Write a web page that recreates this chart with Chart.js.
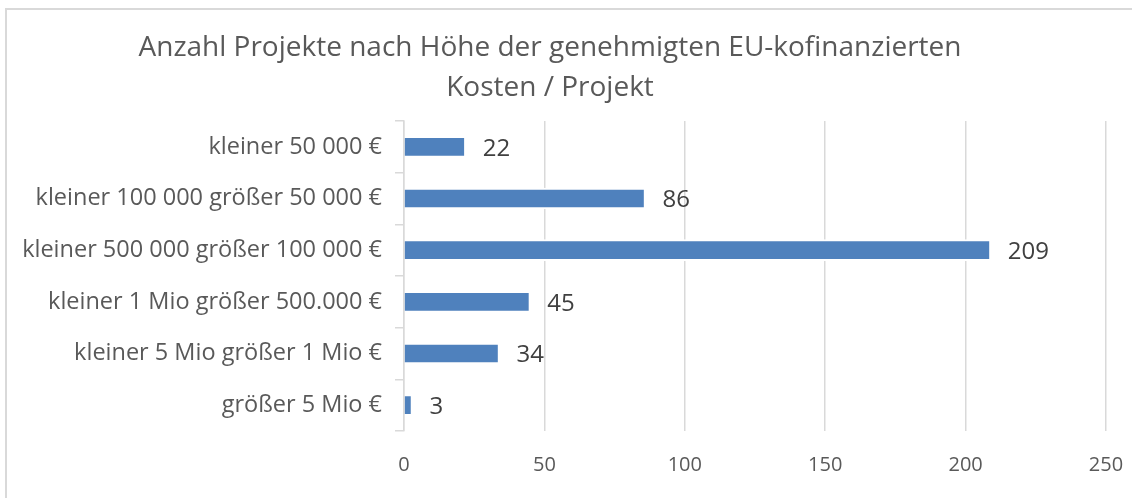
<!DOCTYPE html>
<html>
<head>
<meta charset="utf-8">
<script src="https://cdn.jsdelivr.net/npm/chart.js@4"></script>
<style>
  html, body { margin: 0; padding: 0; background: #fff; overflow: hidden; }
  #wrap { width: 1132px; height: 498px; position: relative; }
</style>
</head>
<body>
<div id="wrap"><canvas id="chart" width="1132" height="498"></canvas></div>
<script>
// categories top to bottom, as shown
const categories = [
  "kleiner 50 000 €",
  "kleiner 100 000 größer 50 000 €",
  "kleiner 500 000 größer 100 000 €",
  "kleiner 1 Mio größer 500.000 €",
  "kleiner 5 Mio größer 1 Mio €",
  "größer 5 Mio €"
];
const projectCounts = [22, 86, 209, 45, 34, 3];
const xTicks = [0, 50, 100, 150, 200, 250];
const titleLines = ["Anzahl Projekte nach Höhe der genehmigten EU-kofinanzierten", "Kosten / Projekt"];

const FONT = "'Open Sans', sans-serif";
const gridGray = "#d9d9d9";

// frame round the chart (only left + top edges are inside the picture)
const framePlugin = {
  id: "frame",
  beforeDraw(chart) {
    const ctx = chart.ctx;
    ctx.save();
    ctx.fillStyle = "#fff";
    ctx.fillRect(0, 0, chart.width, chart.height);
    ctx.strokeStyle = gridGray;
    ctx.lineWidth = 2;
    ctx.beginPath();
    ctx.moveTo(6, chart.height);
    ctx.lineTo(6, 9);
    ctx.lineTo(chart.width, 9);
    ctx.stroke();
    ctx.restore();
  }
};

// two-line title, centred a bit left of the canvas centre like the original
const titlePlugin = {
  id: "excelTitle",
  afterDraw(chart) {
    const ctx = chart.ctx;
    ctx.save();
    ctx.font = "28px " + FONT;
    ctx.fillStyle = "#595959";
    ctx.textAlign = "center";
    ctx.textBaseline = "middle";
    titleLines.forEach((line, i) => ctx.fillText(line, 550, 48 + i * 40));
    ctx.restore();
  }
};

// value labels to the right of each bar
const valueLabels = {
  id: "valueLabels",
  afterDatasetsDraw(chart) {
    const ctx = chart.ctx;
    const meta = chart.getDatasetMeta(0);
    ctx.save();
    ctx.font = "24px " + FONT;
    ctx.fillStyle = "#404040";
    ctx.textAlign = "left";
    ctx.textBaseline = "middle";
    meta.data.forEach((bar, i) => {
      ctx.fillText(String(projectCounts[i]), bar.x + 17, bar.y + 2);
    });
    ctx.restore();
  }
};

new Chart(document.getElementById("chart"), {
  type: "bar",
  data: {
    labels: categories,
    datasets: [{
      data: projectCounts,
      backgroundColor: "#4f81bd",
      borderColor: "#ffffff",
      borderWidth: 2,
      barThickness: 21
    }]
  },
  plugins: [framePlugin, titlePlugin, valueLabels],
  options: {
    indexAxis: "y",
    responsive: false,
    animation: false,
    layout: { padding: { left: 10, right: 26, top: 121, bottom: 0 } },
    plugins: {
      legend: { display: false },
      title: { display: false },
      tooltip: { enabled: false }
    },
    scales: {
      x: {
        min: 0,
        max: 250,
        afterBuildTicks: (scale) => { scale.ticks = xTicks.map(v => ({ value: v })); },
        afterFit: (scale) => {
          scale.height = 67;
          // let the layout padding decide the right edge, not the last label
          scale.paddingLeft = 0;
          scale.paddingRight = 0;
        },
        grid: { color: gridGray, lineWidth: 1.5, drawTicks: false },
        border: { display: false },
        ticks: { color: "#595959", font: { family: FONT, size: 20 }, padding: 22 }
      },
      y: {
        afterFit: (scale) => { scale.width = 394; },
        grid: { offset: true, drawOnChartArea: false, color: gridGray, lineWidth: 1.5, tickLength: 9 },
        border: { display: true, color: gridGray, width: 1.5 },
        ticks: { color: "#595959", font: { family: FONT, size: 23.5 }, padding: 13 }
      }
    }
  }
});
</script>
</body>
</html>
